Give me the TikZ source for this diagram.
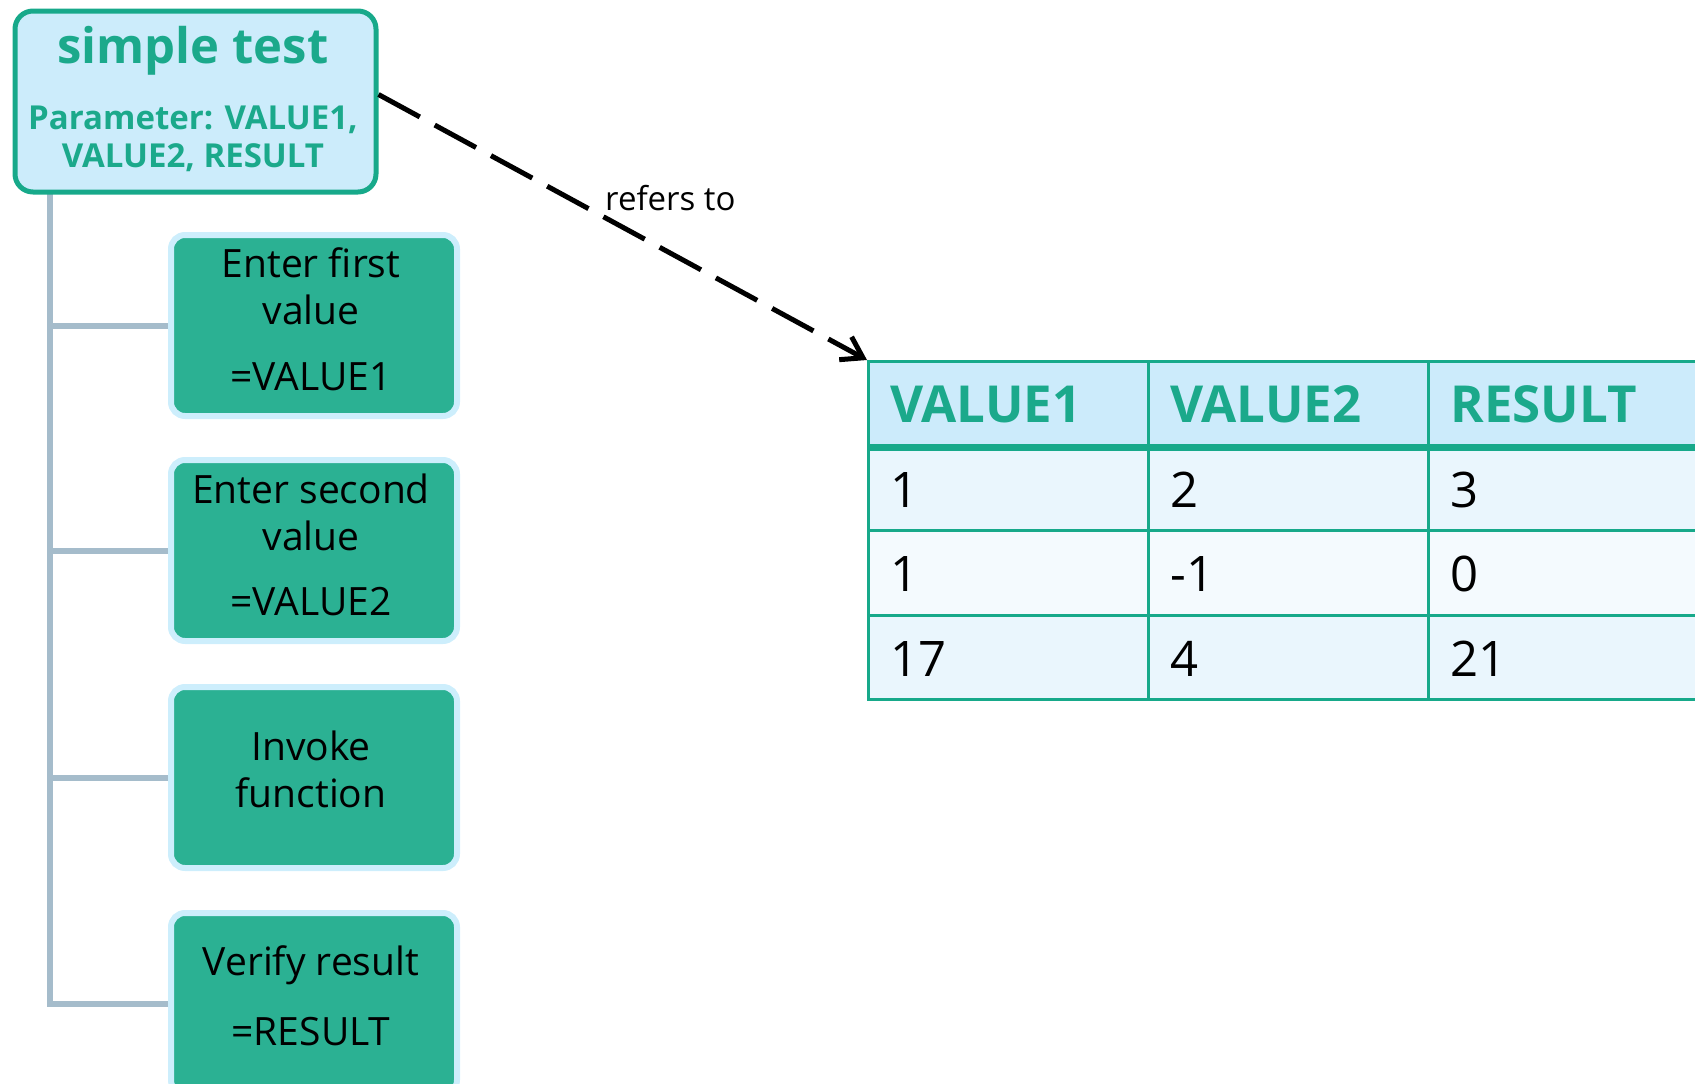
\documentclass[tikz,border=0pt]{standalone}
\usepackage{fontspec}
\setmainfont{Open Sans}
\usetikzlibrary{arrows.meta,backgrounds}

\definecolor{tealline}{HTML}{17A98A}
\definecolor{tealtext}{HTML}{1BA98B}
\definecolor{rootfill}{HTML}{CCECFB}
\definecolor{stepfill}{HTML}{2BB193}
\definecolor{stephalo}{HTML}{CDEEFC}
\definecolor{treegray}{HTML}{A5BCCB}
\definecolor{hdrfill}{HTML}{CCEBFB}
\definecolor{rowfillA}{HTML}{EAF6FD}
\definecolor{rowfillB}{HTML}{F4FAFE}

\begin{document}
\begin{tikzpicture}[x=1pt,y=1pt,
  rootbox/.style={draw=tealline, line width=5pt, fill=rootfill,
    rounded corners=18pt, minimum width=361pt, minimum height=181pt,
    inner sep=0pt, anchor=north west},
  titletext/.style={font=\fontsize{49}{58}\selectfont\bfseries,
    text=tealtext, anchor=base, inner sep=0pt},
  paramtext/.style={font=\fontsize{33}{39}\selectfont\bfseries,
    text=tealtext, anchor=base, inner sep=0pt},
  stepbox/.style={draw=stephalo, line width=6pt, fill=stepfill,
    rounded corners=14pt, minimum width=286pt, minimum height=181pt,
    inner sep=0pt, anchor=north west},
  steptext/.style={font=\fontsize{39}{47}\selectfont, text=black,
    anchor=base, inner sep=0pt},
  treeline/.style={draw=treegray, line width=6pt},
  cellbox/.style={draw=tealline, line width=3pt, anchor=north west,
    minimum height=84.5pt, inner xsep=22pt, inner ysep=0pt,
    text width=236pt, align=left, text height=38pt, text depth=0pt,
    font=\fontsize{49}{58}\selectfont},
  hdrcell/.style={cellbox, fill=hdrfill, text=tealtext,
    font=\fontsize{51}{60}\selectfont\bfseries},
  lastcol/.style={text width=256pt},
  refarrow/.style={draw=black, line width=5pt,
    dash pattern=on 47pt off 17pt,
    -{Straight Barb[length=20pt, width=26pt]}},
  reftext/.style={font=\fontsize{33}{40}\selectfont, anchor=base west,
    inner sep=0pt}
]
\clip (0,0) rectangle (1695,-1084);

% test case header
\node[rootbox] (root) at (12.5,-8.5) {};
\node[titletext] (ttl) at (193,-63) {simple test};
\node[paramtext] (par1) at (193,-129) {Parameter: VALUE1,};
\node[paramtext] (par2) at (193,-167) {VALUE2, RESULT};

% test steps
\node[stepbox] (s1) at (168,-232) {};
\node[stepbox] (s2) at (168,-457) {};
\node[stepbox] (s3) at (168,-684) {};
\node[stepbox] (s4) at (168,-910) {};

\node[steptext] (s1a) at (311,-277) {Enter first};
\node[steptext] (s1b) at (311,-324) {value};
\node[steptext] (s1c) at (311,-390) {=VALUE1};

\node[steptext] (s2a) at (311,-503) {Enter second};
\node[steptext] (s2b) at (311,-550) {value};
\node[steptext] (s2c) at (311,-615) {=VALUE2};

\node[steptext] (s3a) at (311,-760) {Invoke};
\node[steptext] (s3b) at (311,-807) {function};

\node[steptext] (s4a) at (311,-975) {Verify result};
\node[steptext] (s4b) at (311,-1045) {=RESULT};

% tree connecting the steps to the test case
\begin{scope}[on background layer]
  \coordinate (trunk) at (50,-190);
  \draw[treeline] (trunk) |- (s4.west);
  \foreach \s in {s1,s2,s3}
    \draw[treeline] (trunk |- \s.west) -- (\s.west);
\end{scope}

% data table
\node[hdrcell] (h1) at (867,-360) {VALUE1};
\node[hdrcell] (h2) at (1147,-360) {VALUE2};
\node[hdrcell, lastcol] (h3) at (1427,-360) {RESULT};

\node[cellbox, fill=rowfillA] (r1a) at (867,-444.5) {1};
\node[cellbox, fill=rowfillA] (r1b) at (1147,-444.5) {2};
\node[cellbox, fill=rowfillA, lastcol] (r1c) at (1427,-444.5) {3};

\node[cellbox, fill=rowfillB] (r2a) at (867,-529) {1};
\node[cellbox, fill=rowfillB] (r2b) at (1147,-529) {-1};
\node[cellbox, fill=rowfillB, lastcol] (r2c) at (1427,-529) {0};

\node[cellbox, fill=rowfillA] (r3a) at (867,-613.5) {17};
\node[cellbox, fill=rowfillA] (r3b) at (1147,-613.5) {4};
\node[cellbox, fill=rowfillA, lastcol] (r3c) at (1427,-613.5) {21};

\draw[tealline, line width=7pt] (h1.south west) -- (h3.south east);

% reference from the test case to its data
\draw[refarrow] ([yshift=7pt]root.east) -- (h1.north west);
\node[reftext] (reflbl) at (605,-210) {refers to};
\end{tikzpicture}
\end{document}
